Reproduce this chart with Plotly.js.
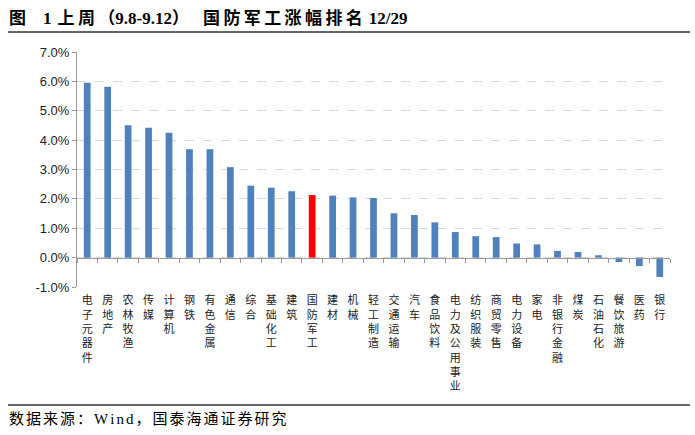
<!DOCTYPE html>
<html>
<head>
<meta charset="utf-8">
<script src="https://cdn.plot.ly/plotly-3.0.1.min.js"></script>
<style>html,body{margin:0;padding:0;background:#fff;}#chart{width:695px;height:435px;}</style>
</head>
<body>
<div id="chart"></div>
<script>
const categories = ["电子元器件","房地产","农林牧渔","传媒","计算机","钢铁","有色金属","通信","综合","基础化工","建筑","国防军工","建材","机械","轻工制造","交通运输","汽车","食品饮料","电力及公用事业","纺织服装","商贸零售","电力设备","家电","非银行金融","煤炭","石油石化","餐饮旅游","医药","银行"];
const values = [5.95,5.82,4.51,4.42,4.25,3.69,3.69,3.08,2.45,2.38,2.26,2.13,2.11,2.05,2.03,1.51,1.45,1.20,0.87,0.73,0.70,0.48,0.45,0.23,0.19,0.08,-0.15,-0.29,-0.66];
const highlight = "国防军工";
const yTickVals = [-1,0,1,2,3,4,5,6,7];
const yTickText = ["-1.0%","0.0%","1.0%","2.0%","3.0%","4.0%","5.0%","6.0%","7.0%"];
const titleParts = ["图", "1", "上周", "（9.8-9.12）", "国防军工涨幅排名", "12/29"];
const sourceText = "数据来源：Wind，国泰海通证券研究";

const W = 695, H = 435, ml = 77, mr = 25, mt = 52, mb = 148;
const pw = W - ml - mr, ph = H - mt - mb;
const px = x => (x - ml) / pw;
const py = y => (H - mb - y) / ph;

// spacer made of normal spaces (0.25em each in Liberation Serif), never larger than 14px font
const spacer = gap => {
  const n = Math.max(1, Math.ceil(gap / 3.5));
  const fs = (gap / n * 4).toFixed(1);
  return `<span style="font-size:${fs}px">${" ".repeat(n).split("").join("")}</span>`.replace(/ /g, " ").replace(/<span style="font-size:([\d.]+)px">/, '<span style="font-size:$1px">');
};
const spaced = (s, gap) => s.split("").join(spacer(gap));

const titleHtml = "<b>" + titleParts[0] + spacer(17) + titleParts[1] + spacer(6) +
  spaced(titleParts[2], 3.4) + spacer(3.4) + titleParts[3] + spacer(14) +
  spaced(titleParts[4], 3.4) + spacer(6) + titleParts[5] + "</b>";
const sourceHtml = spaced(sourceText, 2);

const colors = categories.map(c => c === highlight ? "#FF0000" : "#4F81BD");
const vertLabels = categories.map(c => c.split("").join("<br>"));

const trace = {
  type: "bar",
  x: categories,
  y: values,
  marker: {color: colors},
  width: 0.33,
  hoverinfo: "skip"
};

const layout = {
  width: W, height: H,
  margin: {l: ml, r: mr, t: mt, b: mb},
  paper_bgcolor: "#fff", plot_bgcolor: "#fff",
  showlegend: false,
  xaxis: {
    type: "category",
    range: [-0.5, categories.length - 0.5],
    tickvals: categories,
    ticktext: vertLabels,
    tickson: "boundaries",
    ticks: "outside", ticklen: 4, tickcolor: "#999", tickwidth: 1,
    showline: true, linecolor: "#999", linewidth: 1.5,
    showgrid: false, zeroline: false,
    anchor: "free", position: 0.125,
    ticklabelstandoff: 32,
    tickfont: {family: "Noto Sans CJK SC", size: 11, color: "#222"},
    tickangle: 0,
    fixedrange: true
  },
  yaxis: {
    range: [-1, 7],
    tickvals: yTickVals, ticktext: yTickText,
    ticks: "outside", ticklen: 4, tickcolor: "#999",
    showline: true, linecolor: "#999", linewidth: 1,
    showgrid: true, gridcolor: "#d9d9d9", griddash: "dash", gridwidth: 1,
    zeroline: false,
    tickfont: {family: "Liberation Sans, Arial", size: 13, color: "#222"},
    fixedrange: true
  },
  annotations: [
    {text: titleHtml, xref: "paper", yref: "paper", x: px(7), y: py(18),
     xanchor: "left", yanchor: "middle", showarrow: false,
     font: {family: "Liberation Serif, Noto Sans CJK SC", size: 17, color: "#000"}},
    {text: sourceHtml, xref: "paper", yref: "paper", x: px(7), y: py(419),
     xanchor: "left", yanchor: "middle", showarrow: false,
     font: {family: "Liberation Serif, Noto Sans CJK SC", size: 15, color: "#000"}}
  ],
  shapes: [
    {type: "line", xref: "paper", yref: "paper", x0: px(8), x1: px(690), y0: py(32), y1: py(32),
     line: {color: "#333", width: 1.5}},
    {type: "line", xref: "paper", yref: "paper", x0: px(8), x1: px(690), y0: py(405), y1: py(405),
     line: {color: "#333", width: 1.5}}
  ]
};

Plotly.newPlot("chart", [trace], layout, {displayModeBar: false, staticPlot: true});
</script>
</body>
</html>
